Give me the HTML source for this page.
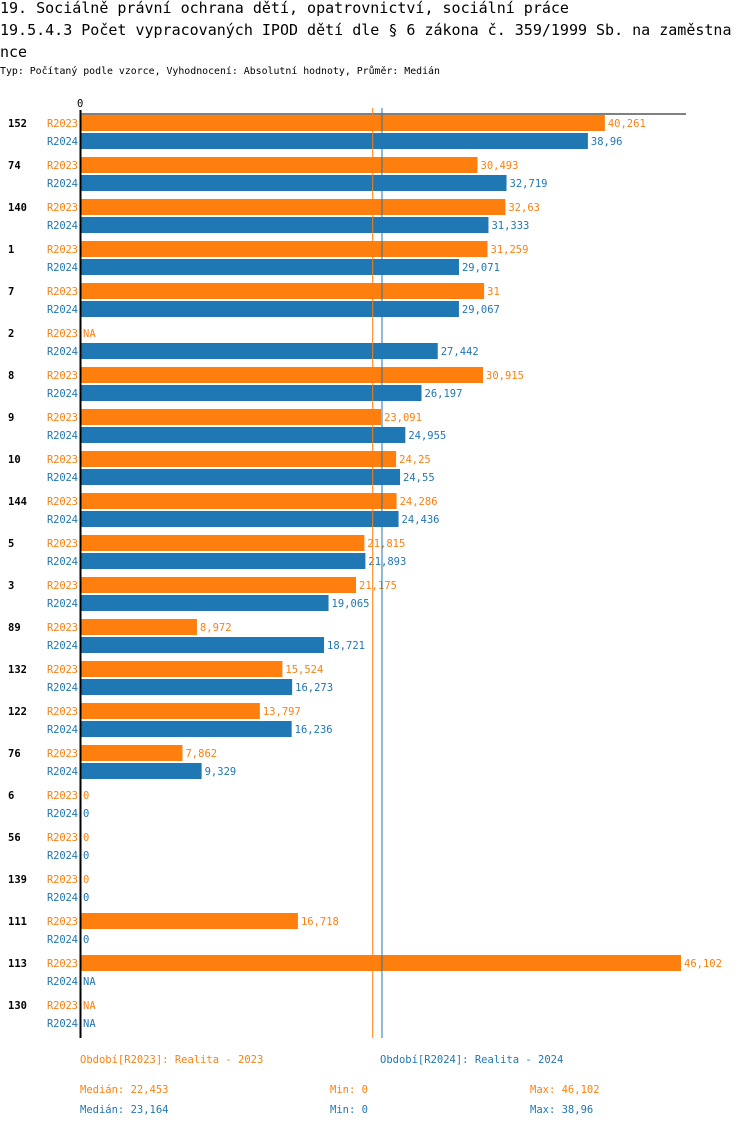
<!DOCTYPE html>
<html><head><meta charset="utf-8"><style>
body{margin:0;background:#fff;width:750px;height:1128px;overflow:hidden;font-family:"DejaVu Sans Mono","Liberation Mono",monospace;}
.t{position:absolute;left:0;white-space:nowrap;font-size:15px;color:#000;}
svg text{font-family:"DejaVu Sans Mono","Liberation Mono",monospace;font-size:10.5px;}
</style></head><body>
<div class="t" style="top:-1px">19. Sociálně právní ochrana dětí, opatrovnictví, sociální práce</div>
<div class="t" style="top:21px">19.5.4.3 Počet vypracovaných IPOD dětí dle § 6 zákona č. 359/1999 Sb. na zaměstna</div>
<div class="t" style="top:43px">nce</div>
<div class="t" style="top:66px;font-size:9.9px">Typ: Počítaný podle vzorce, Vyhodnocení: Absolutní hodnoty, Průměr: Medián</div>
<svg id="c" width="750" height="1128" style="position:absolute;left:0;top:0"></svg>
<script>
const categories=["152","74","140","1","7","2","8","9","10","144","5","3","89","132","122","76","6","56","139","111","113","130"];
const r2023=[40.261,30.493,32.63,31.259,31,null,30.915,23.091,24.25,24.286,21.815,21.175,8.972,15.524,13.797,7.862,0,0,0,16.718,46.102,null];
const r2024=[38.96,32.719,31.333,29.071,29.067,27.442,26.197,24.955,24.55,24.436,21.893,19.065,18.721,16.273,16.236,9.329,0,0,0,0,null,null];
const median2023=22.453, median2024=23.164, min2023=0, min2024=0, max2023=46.102, max2024=38.96;
const OR="#ff7f0e", BL="#1f77b4";
const svg=document.getElementById('c');const NS="http://www.w3.org/2000/svg";
const x0=80, scale=(681-80)/46.102;
const xs=v=>x0+v*scale;
const fmt=v=>v===null?"NA":String(v).replace('.',',');
function mk(t,a,txt){const e=document.createElementNS(NS,t);for(const k in a)e.setAttribute(k,a[k]);if(txt!==undefined)e.textContent=txt;svg.appendChild(e);return e;}
categories.forEach((c,i)=>{
  const b=114+42*i;
  let e=mk('text',{x:8,y:b+13,'font-weight':'bold',fill:'#000'},c);
  
  
  [[r2023[i],OR,'R2023',1],[r2024[i],BL,'R2024',19]].forEach(([v,col,lab,off])=>{
    let l=mk('text',{x:47,y:b+off+12,fill:col,textLength:31},lab);
    
    
    let w=v===null?0:xs(v)-x0;
    if(v!==null&&v>0){
      let r=mk('rect',{x:x0,y:b+off,width:w,height:16,fill:col});
      
      
    }
    let t=mk('text',{x:x0+w+3,y:b+off+12,fill:col},fmt(v));
    
    
  });
});
let a=mk('line',{x1:80,y1:114,x2:686,y2:114,stroke:'#000','stroke-width':1});


let a2=mk('line',{x1:80.5,y1:110,x2:80.5,y2:1038,stroke:'#000','stroke-width':2});


let z=mk('text',{x:77,y:107,fill:'#000'},'0');


let m1=mk('line',{x1:xs(median2023),y1:108,x2:xs(median2023),y2:1038,stroke:OR});


let m2=mk('line',{x1:xs(median2024),y1:108,x2:xs(median2024),y2:1038,stroke:BL});


const leg=[[80,1063,OR,'Období[R2023]: Realita - 2023'],[380,1063,BL,'Období[R2024]: Realita - 2024'],
[80,1093,OR,'Medián: '+fmt(median2023)],[330,1093,OR,'Min: '+fmt(min2023)],[530,1093,OR,'Max: '+fmt(max2023)],
[80,1113,BL,'Medián: '+fmt(median2024)],[330,1113,BL,'Min: '+fmt(min2024)],[530,1113,BL,'Max: '+fmt(max2024)]];
leg.forEach(([x,y,col,t])=>{let e=mk('text',{x:x,y:y,fill:col,'font-size':'11px'},t);

});
</script>
</body></html>
